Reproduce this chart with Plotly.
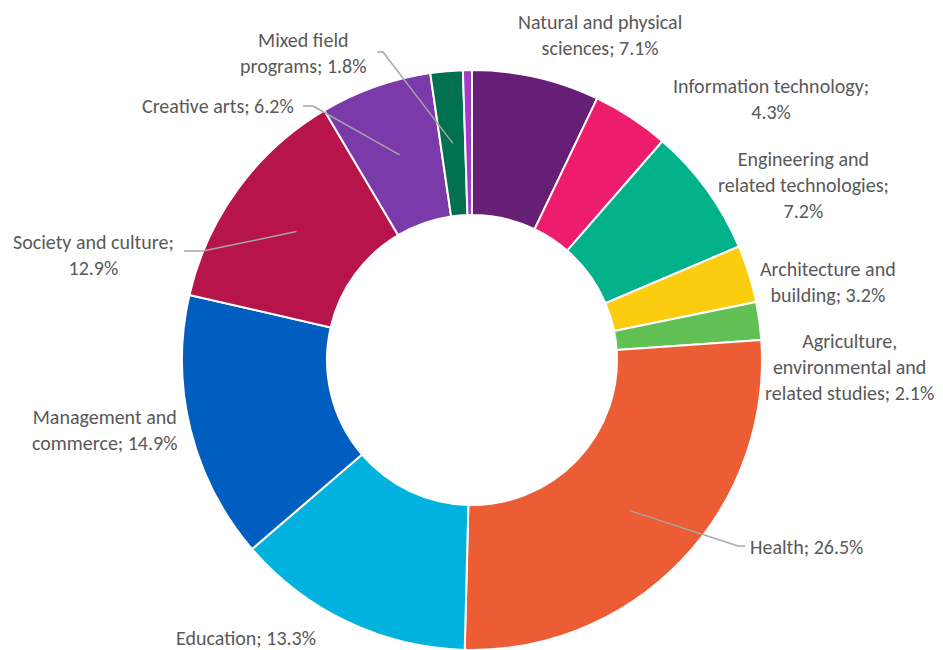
import math
import plotly.graph_objects as go

# ---- data ----
categories = [
    "Natural and physical sciences",
    "Information technology",
    "Engineering and related technologies",
    "Architecture and building",
    "Agriculture, environmental and related studies",
    "Health",
    "Education",
    "Management and commerce",
    "Society and culture",
    "Creative arts",
    "Mixed field programs",
    "Food, hospitality and personal services",
]
values = [7.1, 4.3, 7.2, 3.2, 2.1, 26.5, 13.3, 14.9, 12.9, 6.2, 1.8, 0.5]
label_text = [
    "Natural and physical<br>sciences; 7.1%",
    "Information technology;<br>4.3%",
    "Engineering and<br>related technologies;<br>7.2%",
    "Architecture and<br>building; 3.2%",
    "Agriculture,<br>environmental and<br>related studies; 2.1%",
    "Health; 26.5%",
    "Education; 13.3%",
    "Management and<br>commerce; 14.9%",
    "Society and culture;<br>12.9%",
    "Creative arts; 6.2%",
    "Mixed field<br>programs; 1.8%",
    None,
]

# ---- style ----
colors = ["#661F75", "#EE1C6D", "#00B189", "#FCCD0E", "#62C155", "#EC5D35",
          "#00B2DD", "#005EC0", "#B8144C", "#7B3AA9", "#00704F", "#A43BC6"]

BODY = 8  # default page margin of the html body
W, H = 935, 642
ML, MR, MT, MB = 0, 7, 62, 0
PW, PH = W - ML - MR, H - MT - MB
R = min(PW, PH) / 2
CX, CY = ML + PW / 2, MT + PH / 2
HOLE = 0.5
FONT = dict(family="Carlito, Lato, sans-serif", size=20, color="#595959")

# label layout in window pixels: (x, y, xanchor)
label_pos = [
    (600, 35, "center"),
    (771, 99, "center"),
    (803, 185, "center"),
    (828, 282, "center"),
    (849, 367, "center"),
    (748, 547, "left"),
    (246, 638, "center"),
    (104, 430, "center"),
    (93, 255, "center"),
    (296, 106, "right"),
    (303, 53, "center"),
    None,
]
# leader lines: (elbow, end) in window pixels
leaders = {
    5: ((738, 546), (745, 546)),
    8: ((203, 251), (184, 251)),
    9: ((313, 106), (303, 106)),
    10: ((383, 52), (377, 52)),
}


def px2paper(x, y):
    fx, fy = x - BODY, y - BODY
    return (fx - ML) / PW, (H - MB - fy) / PH


fig = go.Figure(go.Pie(
    labels=categories,
    values=values,
    hole=HOLE,
    sort=False,
    direction="clockwise",
    rotation=0,
    marker=dict(colors=colors, line=dict(color="white", width=2)),
    textinfo="none",
    hoverinfo="label+percent",
    showlegend=False,
))

annotations = []
for i, t in enumerate(label_text):
    if t is None:
        continue
    x, y, xa = label_pos[i]
    px, py = px2paper(x, y)
    annotations.append(dict(
        x=px, y=py, xref="paper", yref="paper", text=t, showarrow=False,
        xanchor=xa, yanchor="middle", align="center", font=FONT,
    ))

total = sum(values)
shapes = []
cum = 0.0
mids = []
for v in values:
    mids.append((cum + v / 2) / total * 2 * math.pi)
    cum += v
for i, (elbow, end) in leaders.items():
    ang = mids[i]
    rr = R * (1 + HOLE) / 2
    ax = CX + rr * math.sin(ang)
    ay = CY - rr * math.cos(ang)
    a = ((ax - ML) / PW, (H - MB - ay) / PH)
    pts = [a, px2paper(*elbow), px2paper(*end)]
    path = "M {} {} L {} {} L {} {}".format(*[c for p in pts for c in p])
    shapes.append(dict(type="path", path=path, xref="paper", yref="paper",
                       line=dict(color="#A6A6A6", width=1.5)))

fig.update_layout(
    width=W, height=H,
    margin=dict(l=ML, r=MR, t=MT, b=MB),
    paper_bgcolor="white", plot_bgcolor="white",
    annotations=annotations, shapes=shapes,
)
fig.write_html("out.html")
